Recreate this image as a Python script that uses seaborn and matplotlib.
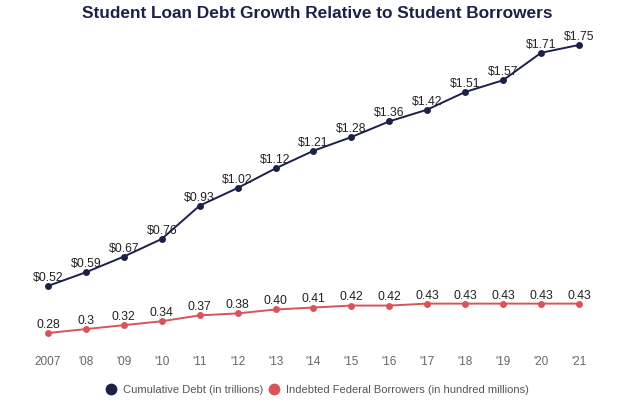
import matplotlib
matplotlib.use("Agg")
import matplotlib.pyplot as plt
import seaborn as sns
import pandas as pd
from matplotlib.lines import Line2D

years = ["2007", "'08", "'09", "'10", "'11", "'12", "'13", "'14", "'15", "'16", "'17", "'18", "'19", "'20", "'21"]
debt = [0.52, 0.59, 0.67, 0.76, 0.93, 1.02, 1.12, 1.21, 1.28, 1.36, 1.42, 1.51, 1.57, 1.71, 1.75]
debt_labels = ["$0.52", "$0.59", "$0.67", "$0.76", "$0.93", "$1.02", "$1.12", "$1.21", "$1.28", "$1.36", "$1.42", "$1.51", "$1.57", "$1.71", "$1.75"]
borrowers = [0.28, 0.30, 0.32, 0.34, 0.37, 0.38, 0.40, 0.41, 0.42, 0.42, 0.43, 0.43, 0.43, 0.43, 0.43]
borrower_labels = ["0.28", "0.3", "0.32", "0.34", "0.37", "0.38", "0.40", "0.41", "0.42", "0.42", "0.43", "0.43", "0.43", "0.43", "0.43"]
series_names = ["Cumulative Debt (in trillions)", "Indebted Federal Borrowers (in hundred millions)"]

navy = "#1c2147"
red = "#d9545a"

sns.set_theme(style="white")
plt.rcParams['font.family'] = ['Liberation Sans', 'DejaVu Sans']

df = pd.DataFrame({
    "x": list(range(len(years))) * 2,
    "value": debt + borrowers,
    "series": [series_names[0]] * len(years) + [series_names[1]] * len(years),
})

fig = plt.figure(figsize=(6.38, 4.20), dpi=100)
ax = fig.add_axes([0.0395, 0.1698, 0.9036, 0.7698])

sns.lineplot(data=df, x="x", y="value", hue="series", palette=[navy, red],
             marker="o", markersize=5, markeredgewidth=0, linewidth=1.4,
             legend=False, ax=ax, zorder=3)
for line in ax.lines:
    line.set_clip_on(False)

for i, (v, t) in enumerate(zip(debt, debt_labels)):
    ax.annotate(t, (i, v), xytext=(0, 1.5), textcoords="offset points",
                ha="center", va="bottom", fontsize=8.8, color="#222222", zorder=2)
for i, (v, t) in enumerate(zip(borrowers, borrower_labels)):
    ax.annotate(t, (i, v), xytext=(0, 1.5), textcoords="offset points",
                ha="center", va="bottom", fontsize=8.8, color="#222222", zorder=2)

ax.set_xlim(-0.6, 14.6)
ax.set_ylim(0.2, 1.85)
ax.set_xticks(range(len(years)))
ax.set_xticklabels(years, fontsize=8.5, color="#666666")
ax.tick_params(axis="x", length=0, pad=5)
ax.set_yticks([])
ax.set_xlabel("")
ax.set_ylabel("")
for s in ax.spines.values():
    s.set_visible(False)

fig.suptitle("Student Loan Debt Growth Relative to Student Borrowers",
             x=0.497, y=0.985, fontsize=12.4, fontweight="bold", color="#1c2147")

handles = [Line2D([], [], marker="o", linestyle="", markersize=8.5, color=navy, markeredgewidth=0),
           Line2D([], [], marker="o", linestyle="", markersize=8.5, color=red, markeredgewidth=0)]
leg = fig.legend(handles, series_names, loc="center", bbox_to_anchor=(0.497, 0.072),
                 ncol=2, frameon=False, fontsize=8.0, handletextpad=0.6, columnspacing=0.5,
                 handlelength=1.0)
for t in leg.get_texts():
    t.set_color("#555555")

fig.savefig("out.png", dpi=100)
